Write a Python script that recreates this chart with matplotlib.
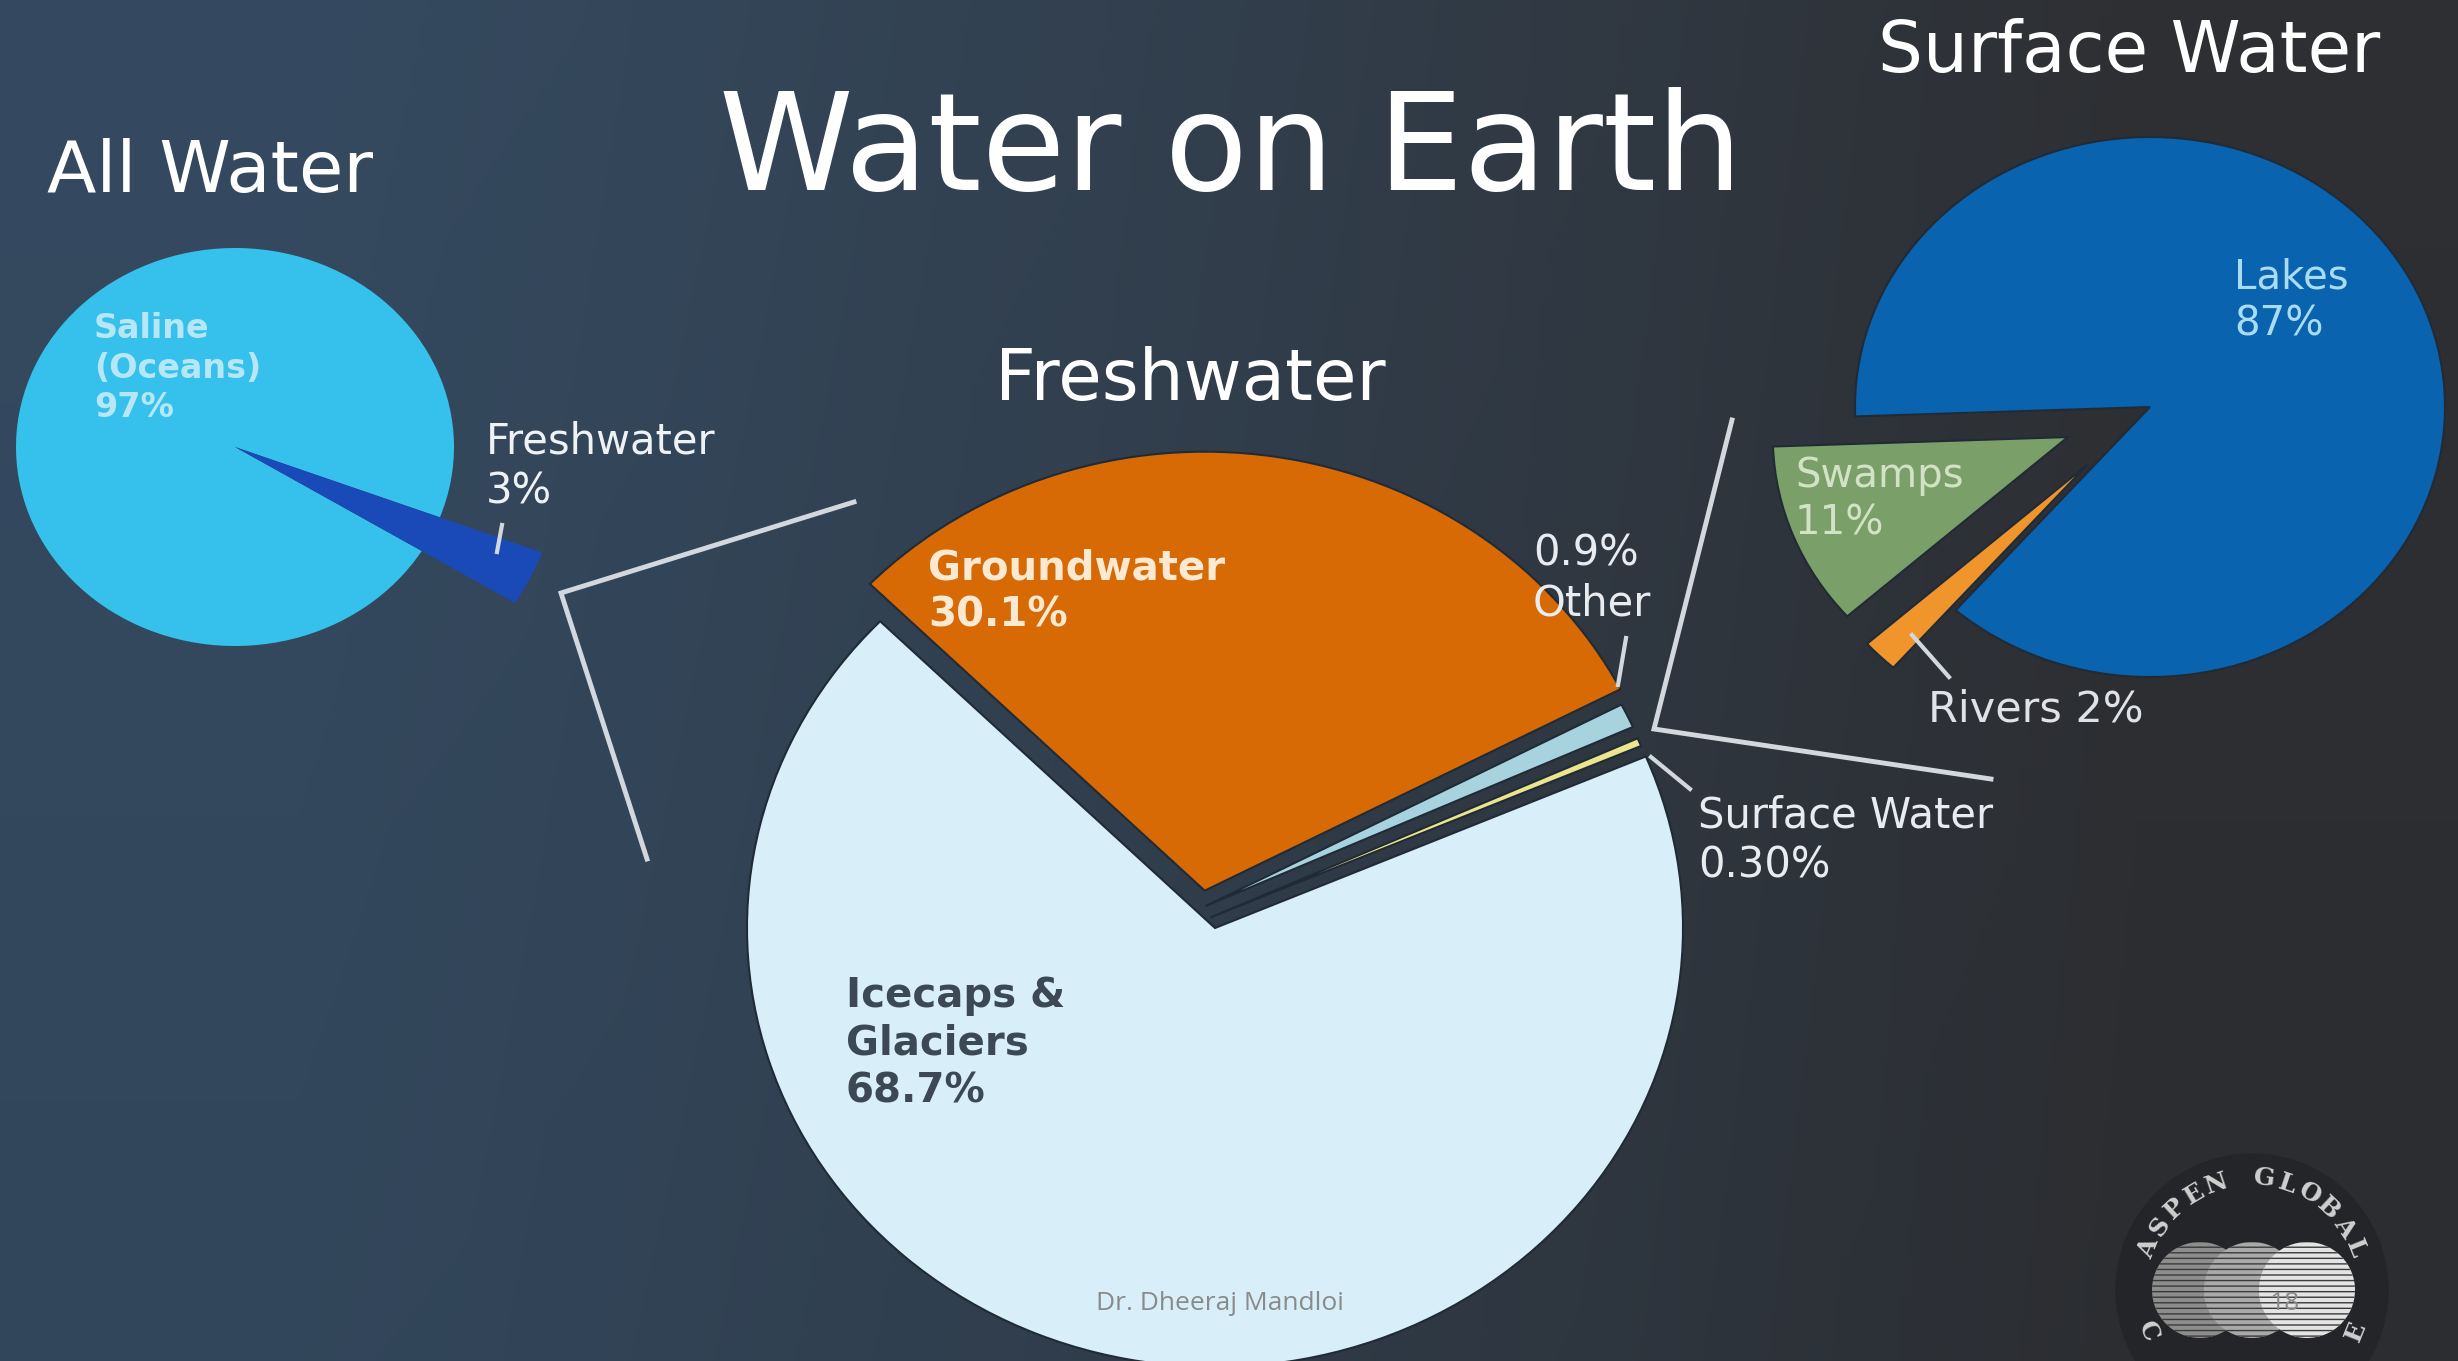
import numpy as np
import matplotlib
matplotlib.use("Agg")
import matplotlib.pyplot as plt
from matplotlib.patches import Circle

W, H = 2458, 1361

# share of all water on earth
all_labels = ["Freshwater", "Saline\n(Oceans)"]
all_values = [3, 97]

# breakdown of freshwater
fresh_labels = ["Surface Water", "Other", "Groundwater", "Icecaps &\nGlaciers"]
fresh_values = [0.3, 0.9, 30.1, 68.7]

# breakdown of surface water
surface_labels = ["Swamps", "Rivers", "Lakes"]
surface_values = [11, 2, 87]

FONT = "DejaVu Sans"
LINE = "#d3d8de"
DARK = "#202b36"

fig = plt.figure(figsize=(W / 100, H / 100), dpi=100)

# background: slate blue on the left fading to charcoal on the right
bg = fig.add_axes([0, 0, 1, 1], zorder=0)
xs = np.linspace(0, 1, 800)
ys = np.linspace(0, 1, 400)
X, Y = np.meshgrid(xs, ys)
t = np.clip((X - 0.12) / 0.75, 0, 1) ** 1.2
left = np.array([0.207, 0.290, 0.376])
right = np.array([0.180, 0.186, 0.200])
img = left * (1 - t[..., None]) + right * t[..., None]
img *= (1 - 0.05 * Y[..., None])
bg.imshow(img, extent=[0, 1, 0, 1], aspect="auto", origin="upper")
bg.axis("off")


def pie_axes(cx, cy, rx, ry, lim=1.7):
    # axes whose unit circle lands on an rx x ry ellipse centred at (cx, cy) px
    ax = fig.add_axes([(cx - lim * rx) / W, 1 - (cy + lim * ry) / H,
                       2 * lim * rx / W, 2 * lim * ry / H], zorder=2)
    return ax


def finish(ax, lim=1.7):
    ax.set_aspect("auto")
    ax.set_xlim(-lim, lim)
    ax.set_ylim(-lim, lim)
    ax.axis("off")


# All Water: saline at full radius, freshwater slice sticking out
ax1 = pie_axes(235, 447, 219, 199)
w_sal, _ = ax1.pie(all_values, colors=["#1a49b8", "#36c1ec"], startangle=-31.5,
                   wedgeprops=dict(linewidth=0))
w_sal[0].set_visible(False)
w_fr, _ = ax1.pie(all_values, colors=["#1a49b8", "#36c1ec"], startangle=-31.5,
                  radius=1.5, wedgeprops=dict(linewidth=0))
w_fr[1].set_visible(False)
finish(ax1)

# Freshwater: each slice nudged sideways so thin bands separate cleanly
ax2 = pie_axes(1215, 928, 468, 439)
fresh_colors = ["#ebe58e", "#a7d3df", "#d76a04", "#d8eff9"]
fresh_shift = [(-0.010, 0.024), (-0.020, 0.050), (-0.022, 0.085), (0, 0)]
for i, (dx, dy) in enumerate(fresh_shift):
    wedges, _ = ax2.pie(fresh_values, colors=fresh_colors, startangle=23,
                        center=(dx, dy),
                        wedgeprops=dict(edgecolor=DARK, linewidth=1.5))
    for j, w in enumerate(wedges):
        if j != i:
            w.set_visible(False)
finish(ax2)

# Surface Water
ax3 = pie_axes(2150, 407, 295, 270)
ax3.pie(surface_values, colors=["#7b9f69", "#f0952c", "#0a63ae"],
        startangle=182, explode=[0.3, 0.3, 0],
        wedgeprops=dict(edgecolor=DARK, linewidth=1.5))
finish(ax3)

# overlay in pixel coordinates for titles, labels and connectors
ov = fig.add_axes([0, 0, 1, 1], zorder=5)
ov.set_xlim(0, W)
ov.set_ylim(H, 0)
ov.axis("off")
ov.patch.set_visible(False)

ov.text(1231, 152, "Water on Earth", fontsize=98, color="white",
        family=FONT, ha="center", va="center")
ov.text(47, 138, "All Water", fontsize=52, color="white", family=FONT,
        ha="left", va="top")
ov.text(1878, 18, "Surface Water", fontsize=51, color="white", family=FONT,
        ha="left", va="top")
ov.text(995, 346, "Freshwater", fontsize=51, color="white", family=FONT,
        ha="left", va="top")

lbl = dict(family=FONT, ha="left", va="top", linespacing=1.25)
ov.text(94, 312, f"{all_labels[1]}\n{all_values[1]}%", fontsize=24,
        color="#c6ecf8", weight="bold", alpha=0.9, **lbl)
ov.text(486, 420, f"{all_labels[0]}\n{all_values[0]}%", fontsize=30,
        color="#eef2f5", **lbl)
ov.text(928, 548, f"{fresh_labels[2]}\n{fresh_values[2]}%", fontsize=29,
        color="#fbe9d2", weight="bold", **lbl)
ov.text(1533, 532, f"{fresh_values[1]}%\n{fresh_labels[1]}", fontsize=30,
        color="#e8ecf0", **lbl)
ov.text(846, 976, f"{fresh_labels[3]}\n{fresh_values[3]}%", fontsize=29,
        color="#3c4853", weight="bold", **lbl)
ov.text(1698, 794, f"{fresh_labels[0]}\n{fresh_values[0]:.2f}%", fontsize=30,
        color="#e8ecf0", **lbl)
ov.text(2234, 257, f"{surface_labels[2]}\n{surface_values[2]}%", fontsize=29,
        color="#a9dcf3", **lbl)
ov.text(1795, 456, f"{surface_labels[0]}\n{surface_values[0]}%", fontsize=29,
        color="#d2e2c4", **lbl)
ov.text(1928, 688, f"{surface_labels[1]} {surface_values[1]}%", fontsize=31,
        color="#dfe3e8", **lbl)

# brackets linking each slice to the pie that breaks it down
ov.plot([854, 561, 647], [502, 593, 859], color=LINE, lw=3.5,
        solid_joinstyle="miter")
ov.plot([1732, 1654, 1991], [420, 729, 779], color=LINE, lw=3.5,
        solid_joinstyle="miter")

# leader lines
for xx, yy in [([502, 497], [525, 552]),
               ([1626, 1618], [638, 685]),
               ([1651, 1690], [757, 789]),
               ([1912, 1949], [635, 677])]:
    ov.plot(xx, yy, color=LINE, lw=3)

# footer
ov.text(1220, 1303, "Dr. Dheeraj Mandloi", fontsize=19, color="#8a8a8a",
        family="Open Sans", ha="center", va="center")

# logo, bottom right (runs off the lower edge of the slide)
lcx, lcy = 2252, 1290
ov.add_patch(Circle((lcx, lcy), 136, color="#242528", zorder=1))
for dx, col in [(-52, "#8d8d8d"), (0, "#a9a9a9"), (55, "#e4e4e4")]:
    ov.add_patch(Circle((lcx + dx, lcy), 48, facecolor=col,
                        edgecolor="#3a3a3a", hatch="---", lw=0, zorder=2))
for text, a0, a1, top in [("ASPEN GLOBAL", 158, 22, True),
                          ("CHANGE INSTITUTE", 202, 338, False)]:
    angs = np.linspace(a0, a1, len(text))
    for ch, a in zip(text, angs):
        r = np.radians(a)
        x, y = lcx + 112 * np.cos(r), lcy - 112 * np.sin(r)
        if y > H - 20:
            continue
        rot = a - 90 if top else a + 90
        ov.text(x, y, ch, fontsize=18, weight="bold", color="#d0d0d0",
                family="DejaVu Serif", rotation=rot, ha="center", va="center",
                zorder=3)
ov.text(2285, 1303, "18", fontsize=19, color="#8a8a8a",
        family="Open Sans", ha="center", va="center", zorder=4)

fig.savefig("out.png", dpi=100)
